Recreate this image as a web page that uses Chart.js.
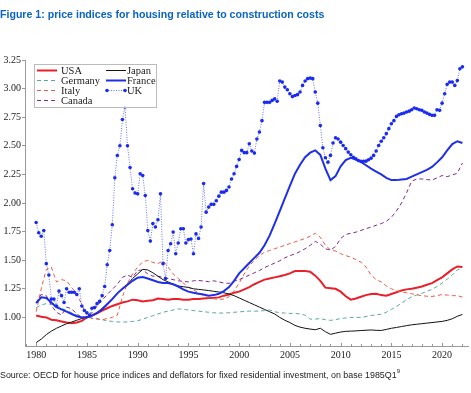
<!DOCTYPE html>
<html><head><meta charset="utf-8">
<script src="https://cdn.jsdelivr.net/npm/chart.js@4.4.0/dist/chart.umd.min.js"></script>
<style>
html,body{margin:0;padding:0;background:#fff;}
#wrap{position:relative;width:471px;height:393px;overflow:hidden;}
#title{position:absolute;left:0;top:8px;font:bold 10.6px "Liberation Sans",Arial,sans-serif;color:#0b63c4;white-space:nowrap;}
#source{position:absolute;left:0;top:370px;font:8.9px "Liberation Sans",Arial,sans-serif;color:#222;white-space:nowrap;}
#source sup{font-size:6px;vertical-align:top;position:relative;top:-2px;}
canvas{position:absolute;left:0;top:0;}
</style></head><body>
<div id="wrap"><canvas id="c" width="471" height="393"></canvas>
<div id="title">Figure 1: price indices for housing relative to construction costs</div>
<div id="source">Source: OECD for house price indices and deflators for fixed residential investment, on base 1985Q1<sup>9</sup></div>
</div>
<script>
const seriesNames = ['USA','Germany','Italy','Canada','Japan','France','UK'];
const firstYear = 1980;
const xTickLabels = [1980,1985,1990,1995,2000,2005,2010,2015,2020];
const yTickLabels = [1.00,1.25,1.50,1.75,2.00,2.25,2.50,2.75,3.00,3.25];

// semiannual values, 1980.0 .. 2022.0
const usa = [1.017,1.005,1.00,0.98,0.975,0.965,0.955,0.948,0.955,0.97,
 1.00,1.015,1.035,1.06,1.08,1.10,1.115,1.13,1.14,1.155,
 1.15,1.14,1.145,1.15,1.165,1.16,1.155,1.16,1.16,1.155,
 1.155,1.16,1.16,1.165,1.17,1.172,1.175,1.19,1.20,1.215,
 1.225,1.245,1.265,1.29,1.31,1.33,1.34,1.35,1.36,1.37,
 1.385,1.405,1.405,1.405,1.40,1.365,1.32,1.26,1.255,1.25,
 1.225,1.185,1.155,1.165,1.18,1.195,1.205,1.207,1.195,1.19,
 1.205,1.22,1.235,1.245,1.25,1.26,1.27,1.285,1.30,1.325,
 1.35,1.385,1.42,1.445,1.44];
const germany = [1.085,1.11,1.12,1.115,1.10,1.08,1.06,1.04,1.02,1.005,
 1.00,0.995,0.99,0.98,0.97,0.965,0.96,0.96,0.96,0.965,
 0.97,0.985,1.00,1.015,1.03,1.045,1.055,1.065,1.075,1.07,
 1.065,1.06,1.055,1.05,1.045,1.04,1.038,1.038,1.04,1.045,
 1.048,1.052,1.055,1.055,1.055,1.06,1.065,1.05,1.04,1.038,
 1.035,1.035,1.03,1.02,0.985,0.985,0.99,0.98,0.974,0.98,
 0.99,0.995,1.00,1.00,1.00,1.008,1.017,1.022,1.028,1.045,
 1.07,1.095,1.125,1.155,1.18,1.195,1.21,1.228,1.245,1.27,
 1.30,1.335,1.37,1.415,1.43];
const italy = [1.05,1.25,1.42,1.44,1.31,1.33,1.32,1.26,1.21,1.11,
 1.02,0.99,0.985,0.98,0.99,1.00,1.02,1.18,1.30,1.38,
 1.44,1.485,1.50,1.48,1.47,1.495,1.44,1.38,1.34,1.30,
 1.265,1.24,1.215,1.19,1.17,1.163,1.157,1.16,1.18,1.23,
 1.30,1.38,1.45,1.50,1.54,1.57,1.585,1.60,1.615,1.63,
 1.645,1.66,1.675,1.69,1.71,1.735,1.70,1.63,1.59,1.58,
 1.557,1.54,1.527,1.505,1.483,1.44,1.37,1.33,1.31,1.275,
 1.25,1.232,1.222,1.215,1.207,1.198,1.19,1.185,1.183,1.19,
 1.20,1.195,1.19,1.19,1.178];
const canada = [1.13,1.20,1.19,1.105,1.045,1.02,1.09,1.075,1.03,1.00,
 1.005,1.04,1.10,1.15,1.20,1.245,1.29,1.35,1.37,1.35,
 1.41,1.415,1.38,1.36,1.36,1.35,1.34,1.33,1.32,1.315,
 1.31,1.32,1.323,1.318,1.312,1.32,1.31,1.30,1.298,1.317,
 1.33,1.35,1.37,1.39,1.41,1.435,1.455,1.475,1.495,1.52,
 1.54,1.555,1.575,1.60,1.63,1.665,1.64,1.60,1.588,1.62,
 1.69,1.725,1.735,1.745,1.76,1.775,1.79,1.805,1.82,1.84,
 1.875,1.93,2.00,2.09,2.19,2.21,2.21,2.205,2.20,2.22,
 2.24,2.23,2.245,2.26,2.35];
const japan = [0.78,0.81,0.85,0.88,0.905,0.925,0.945,0.96,0.975,0.99,
 1.005,1.02,1.04,1.08,1.12,1.165,1.21,1.25,1.29,1.34,
 1.38,1.42,1.415,1.39,1.36,1.33,1.31,1.29,1.275,1.268,
 1.262,1.25,1.245,1.24,1.235,1.228,1.222,1.215,1.205,1.19,
 1.17,1.15,1.13,1.11,1.09,1.07,1.05,1.03,1.00,0.975,
 0.955,0.93,0.915,0.905,0.898,0.892,0.905,0.875,0.852,0.862,
 0.872,0.878,0.88,0.882,0.885,0.888,0.89,0.887,0.886,0.895,
 0.905,0.912,0.92,0.928,0.935,0.94,0.945,0.95,0.955,0.96,
 0.965,0.974,0.988,1.01,1.026];
const france = [1.125,1.175,1.17,1.13,1.09,1.07,1.05,1.03,1.01,1.00,
 1.00,1.015,1.04,1.07,1.115,1.16,1.21,1.25,1.285,1.32,
 1.347,1.352,1.34,1.325,1.31,1.30,1.30,1.29,1.27,1.245,
 1.225,1.215,1.207,1.20,1.19,1.195,1.207,1.23,1.265,1.32,
 1.385,1.43,1.475,1.52,1.565,1.63,1.715,1.82,1.93,2.04,
 2.15,2.256,2.335,2.40,2.44,2.46,2.42,2.30,2.20,2.235,
 2.32,2.375,2.395,2.38,2.36,2.33,2.30,2.275,2.25,2.22,
 2.20,2.20,2.205,2.21,2.23,2.25,2.27,2.29,2.315,2.355,
 2.40,2.46,2.515,2.54,2.524];
// quarterly values, 1980Q1 .. 2022Q1
const uk = [1.83,1.74,1.71,1.76,1.47,1.37,1.16,1.16,1.10,1.23,1.19,1.13,1.25,1.22,1.22,1.22,1.20,1.25,1.10,1.06,1.04,
 1.02,1.08,1.087,1.12,1.14,1.19,1.27,1.46,1.585,1.81,2.22,2.415,2.50,2.73,2.84,2.50,2.31,2.125,2.087,2.08,
 2.256,2.24,2.066,1.76,1.667,1.82,1.79,1.854,2.08,1.47,1.34,1.585,1.644,1.746,1.557,1.65,1.775,1.775,1.65,1.68,
 1.685,1.557,1.73,1.69,1.79,2.17,1.92,1.964,1.988,1.988,2.02,2.06,2.095,2.095,2.11,2.14,2.21,2.256,2.32,2.38,
 2.46,2.44,2.44,2.518,2.454,2.436,2.56,2.62,2.72,2.88,2.88,2.88,2.897,2.91,2.89,3.066,3.057,3.013,2.99,2.955,
 2.93,2.94,2.947,2.97,3.028,3.066,3.087,3.092,3.087,2.97,2.873,2.678,2.483,2.396,2.357,2.416,2.524,2.57,2.56,2.532,
 2.503,2.475,2.445,2.422,2.40,2.387,2.372,2.364,2.364,2.366,2.378,2.392,2.416,2.454,2.503,2.54,2.57,2.606,2.65,2.693,
 2.72,2.757,2.772,2.78,2.786,2.795,2.803,2.815,2.83,2.824,2.815,2.81,2.795,2.786,2.775,2.766,2.766,2.815,2.81,2.873,
 2.955,3.037,3.057,3.057,3.028,3.07,3.174,3.19];

const halfYear = (arr) => arr.map((v,i)=>({x:firstYear+i/2, y:v}));
const quarter = (arr) => arr.map((v,i)=>({x:firstYear+i/4, y:v}));

const serif = '"Liberation Serif","Times New Roman",serif';

const datasets = [
 {label:seriesNames[0], data:halfYear(usa), borderColor:'#e8202a', borderWidth:2, order:6},
 {label:seriesNames[1], data:halfYear(germany), borderColor:'#5aa89c', borderWidth:1, borderDash:[4,3], order:5},
 {label:seriesNames[2], data:halfYear(italy), borderColor:'#ec5a44', borderWidth:1, borderDash:[4,3], order:4},
 {label:seriesNames[3], data:halfYear(canada), borderColor:'#7d2a8c', borderWidth:1, borderDash:[4,3], order:3},
 {label:seriesNames[4], data:halfYear(japan), borderColor:'#111111', borderWidth:1, order:2},
 {label:seriesNames[5], data:halfYear(france), borderColor:'#1f2ee8', borderWidth:2, order:1},
 {label:seriesNames[6], data:quarter(uk), borderColor:'rgba(50,70,240,0.75)', borderWidth:1, borderDash:[1,1.5],
  pointRadius:1.8, pointBackgroundColor:'#1a2bf0', pointBorderWidth:0, order:0}
];

const boxLegend = {
 id:'boxLegend',
 afterDatasetsDraw(chart){
  const ctx = chart.ctx;
  const x0=34, y0=64, w=122, h=43;
  ctx.save();
  ctx.fillStyle='rgba(255,255,255,0.92)';
  ctx.fillRect(x0,y0,w,h);
  ctx.strokeStyle='#bbbbbb'; ctx.lineWidth=1;
  ctx.strokeRect(x0+0.5,y0+0.5,w,h);
  ctx.font='10.5px '+serif;
  ctx.textBaseline='middle';
  chart.data.datasets.forEach((ds,i)=>{
   const col = i<4?0:1, row = i<4?i:i-4;
   const sx = col===0?37:106, tx = col===0?61:127, len = 20;
   const y = 70.5 + row*10;
   ctx.beginPath();
   ctx.setLineDash(ds.borderDash||[]);
   ctx.strokeStyle=ds.borderColor; ctx.lineWidth=ds.borderWidth;
   ctx.moveTo(sx,y); ctx.lineTo(sx+len,y); ctx.stroke();
   ctx.setLineDash([]);
   if(ds.pointRadius){
    ctx.fillStyle=ds.pointBackgroundColor;
    [sx+1,sx+len-1].forEach(px=>{ctx.beginPath();ctx.arc(px,y,ds.pointRadius,0,Math.PI*2);ctx.fill();});
   }
   ctx.fillStyle='#222';
   ctx.fillText(ds.label,tx,y+0.5);
  });
  ctx.restore();
 },
 afterDraw(chart){
  const xs = chart.scales.x, ctx = chart.ctx, b = chart.chartArea.bottom;
  ctx.save();
  ctx.strokeStyle='#999'; ctx.lineWidth=1;
  for(let yr=1979; yr<=2022; yr++){
   const px = Math.round(xs.getPixelForValue(yr))+0.5;
   ctx.beginPath(); ctx.moveTo(px,b); ctx.lineTo(px,b-(yr%5===0?3:2)); ctx.stroke();
  }
  ctx.restore();
 }
};

new Chart(document.getElementById('c'), {
 type:'line',
 data:{datasets},
 options:{
  responsive:false, animation:false, devicePixelRatio:1,
  layout:{padding:{top:60,left:0,right:3,bottom:27}},
  plugins:{legend:{display:false}, tooltip:{enabled:false}},
  elements:{line:{tension:0, fill:false}, point:{radius:0, hoverRadius:0}},
  scales:{
   x:{type:'linear', min:1978.9, max:2022.55,
    afterBuildTicks:s=>{s.ticks = xTickLabels.map(v=>({value:v}));},
    ticks:{font:{family:serif,size:10}, color:'#222', padding:3, maxRotation:0, autoSkip:false, callback:v=>String(v)},
    grid:{display:true, drawOnChartArea:false, drawTicks:false},
    border:{display:true, color:'#999'},
    afterFit:s=>{s.height=20;}
   },
   y:{type:'linear', min:0.75, max:3.25,
    afterBuildTicks:s=>{s.ticks = yTickLabels.map(v=>({value:v}));},
    ticks:{font:{family:serif,size:10}, color:'#222', padding:1, autoSkip:false, callback:v=>Number(v).toFixed(2)},
    grid:{display:true, drawOnChartArea:false, drawTicks:true, tickLength:3, color:'#999'},
    border:{display:true, color:'#999'},
    afterFit:s=>{s.width=25;}
   }
  }
 },
 plugins:[boxLegend]
});
</script>
</body></html>
